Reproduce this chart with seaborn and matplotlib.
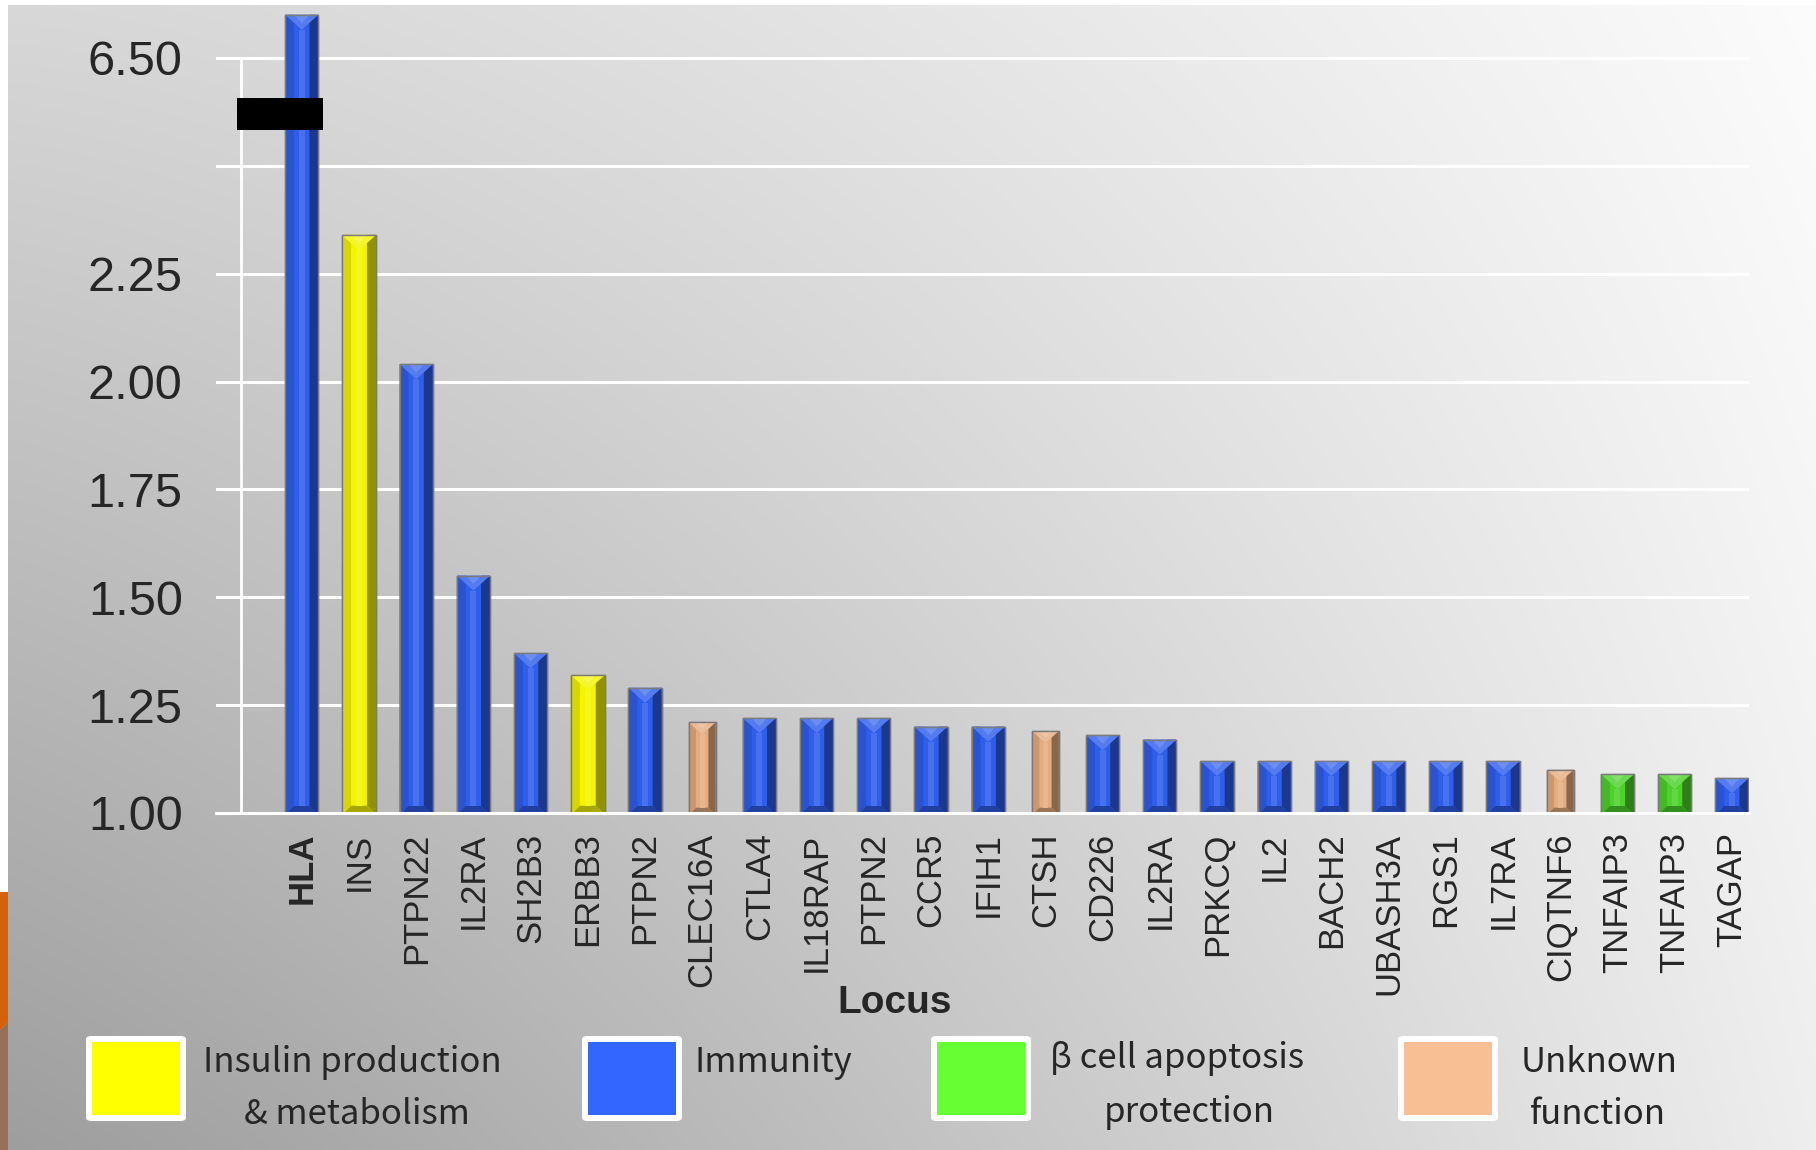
import numpy as np
import pandas as pd
import matplotlib
matplotlib.use("Agg")
import matplotlib.pyplot as plt
import matplotlib.colors as mcolors
from matplotlib.patches import Polygon, Rectangle, FancyBboxPatch
import seaborn as sns

# ---------------------------------------------------------------- data
loci = ["HLA", "INS", "PTPN22", "IL2RA", "SH2B3", "ERBB3", "PTPN2", "CLEC16A",
        "CTLA4", "IL18RAP", "PTPN2", "CCR5", "IFIH1", "CTSH", "CD226", "IL2RA",
        "PRKCQ", "IL2", "BACH2", "UBASH3A", "RGS1", "IL7RA", "CIQTNF6",
        "TNFAIP3", "TNFAIP3", "TAGAP"]
odds_ratio = [6.90, 2.34, 2.04, 1.55, 1.37, 1.32, 1.29, 1.21,
              1.22, 1.22, 1.22, 1.20, 1.20, 1.19, 1.18, 1.17,
              1.12, 1.12, 1.12, 1.12, 1.12, 1.12, 1.10,
              1.09, 1.09, 1.08]
function = ["immunity", "insulin", "immunity", "immunity", "immunity", "insulin",
            "immunity", "unknown", "immunity", "immunity", "immunity", "immunity",
            "immunity", "unknown", "immunity", "immunity", "immunity", "immunity",
            "immunity", "immunity", "immunity", "immunity", "unknown",
            "beta", "beta", "immunity"]

groups = ["insulin", "immunity", "beta", "unknown"]
group_labels = [["Insulin production", "& metabolism"],
                ["Immunity"],
                ["\u03b2 cell apoptosis", "protection"],
                ["Unknown", "function"]]

ytick_values = [1.00, 1.25, 1.50, 1.75, 2.00, 2.25, 2.50, 6.50]
ytick_text = ["1.00", "1.25", "1.50", "1.75", "2.00", "2.25", "", "6.50"]

# ---------------------------------------------------------------- style
legend_colors = {"insulin": "#FFFF00", "immunity": "#3366FF",
                 "beta": "#66FF33", "unknown": "#F8BF94"}
bar_colors = {"insulin": "#F4F400", "immunity": "#2F5EEB",
              "beta": "#4CD22A", "unknown": "#E5AC80"}
bar_width = {"insulin": 0.6, "immunity": 0.58, "beta": 0.58, "unknown": 0.47}

W, H = 1816, 1150
fig = plt.figure(figsize=(W / 100, H / 100), dpi=100)

# background: diagonal grey-to-white wash
bg = fig.add_axes([0, 0, 1, 1], zorder=-10)
gx, gy = np.meshgrid(np.linspace(0, 1, 400), np.linspace(0, 1, 260))
shade = 216 + 36 * gx ** 1.4 - 58 * gy + 44 * gx * gy
shade = np.clip(shade, 0, 255) / 255.0
bg.imshow(np.dstack([shade, shade, shade]), extent=[0, 1, 1, 0],
          aspect="auto", interpolation="bilinear")
bg.set_xlim(0, 1)
bg.set_ylim(1, 0)
bg.axis("off")
# slide frame fragments
bg.add_patch(Rectangle((0, 0), 1, 5 / H, color="white", lw=0))
bg.add_patch(Rectangle((0, 0), 8 / W, 892 / H, color="white", lw=0))
bg.add_patch(Polygon([(0, 892 / H), (8 / W, 892 / H), (8 / W, 1022 / H), (0, 1030 / H)],
                     closed=True, color="#D4620A", lw=0))
bg.add_patch(Polygon([(0, 1030 / H), (8 / W, 1022 / H), (8 / W, 1), (0, 1)],
                     closed=True, color="#967059", lw=0))

sns.set_style("white")
plt.rcParams["font.family"] = ["Liberation Sans", "DejaVu Sans"]

ax = fig.add_axes([216 / W, (H - 813) / H, 1533 / W, 809 / H])
ax.set_facecolor("none")


# broken value axis: 1.0-2.5 linear, 2.5-6.5 squeezed into one step
def fwd(v):
    v = np.asarray(v, dtype=float)
    return np.where(v <= 2.5, (v - 1.0) * 4.0,
                    np.where(v <= 6.5, 6.0 + (v - 2.5) / 4.0, 7.0 + (v - 6.5)))


def inv(u):
    u = np.asarray(u, dtype=float)
    return np.where(u <= 6.0, 1.0 + u / 4.0,
                    np.where(u <= 7.0, 2.5 + (u - 6.0) * 4.0, 6.5 + (u - 7.0)))


df = pd.DataFrame({"pos": np.arange(len(loci)), "odds": odds_ratio, "group": function})
sns.barplot(data=df, x="pos", y="odds", hue="group", hue_order=groups,
            palette=bar_colors, dodge=False, width=0.58, saturation=1,
            legend=False, ax=ax)

ax.set_yscale("function", functions=(fwd, inv))
ax.set_ylim(1.0, float(inv(7.5)))
ax.set_xlim(-1.5, 25.3)

for s in ["top", "right", "left"]:
    ax.spines[s].set_visible(False)
ax.spines["bottom"].set_color("white")
ax.spines["bottom"].set_linewidth(2.2)

ax.set_yticks(ytick_values)
ax.set_yticklabels(ytick_text, fontsize=35)
ax.yaxis.set_minor_locator(matplotlib.ticker.NullLocator())
ax.tick_params(axis="y", length=0, pad=24)
ax.grid(axis="y", color="white", lw=2.2)
ax.grid(axis="x", visible=False)
ax.set_axisbelow(True)

ax.set_xticks(np.arange(len(loci)))
ax.set_xticklabels(loci, rotation=90, fontsize=25)
ax.get_xticklabels()[0].set_fontweight("bold")
ax.set_xticks(np.arange(-1.5, len(loci) - 1, 1.0), minor=True)
ax.tick_params(axis="x", which="major", length=0, pad=14)
ax.tick_params(axis="x", which="minor", length=11.5, width=1.5,
               color="white", direction="out")
ax.set_xlabel("")
ax.set_ylabel("")

# vertical value-axis line
ax.plot([-1.07, -1.07], [1.0, 6.5], color="white", lw=2, zorder=0.6,
        solid_capstyle="butt")


def mix(c, other, t):
    c = np.array(mcolors.to_rgb(c))
    o = np.array(mcolors.to_rgb(other))
    return tuple(c * (1 - t) + o * t)


# bevelled bar faces
to_axes = ax.transAxes.inverted()
bars = [p for p in ax.patches if isinstance(p, Rectangle) and p.get_height() > 0]
for p in bars:
    cx = p.get_x() + p.get_width() / 2
    idx = int(round(cx))
    grp = function[idx]
    w = bar_width[grp]
    p.set_x(cx - w / 2)
    p.set_width(w)
    base = bar_colors[grp]
    p.set_facecolor(base)
    p.set_edgecolor("#7a7a7a")
    p.set_linewidth(1.0)
    p.set_zorder(2)

    top = p.get_y() + p.get_height()
    L, B = ax.transData.transform((cx - w / 2, 1.0))
    R, T = ax.transData.transform((cx + w / 2, top))
    B -= 2
    pw = R - L
    h = T - B
    d = min(0.27 * pw, 0.3 * h)
    d2 = min(0.45 * pw, 0.5 * h)
    mid = (L + R) / 2
    shapes = [
        ([(L, B), (L + d, B + d), (L + d, T), (L, T)], mix(base, "black", 0.12)),
        ([(R, B), (R - d, B + d), (R - d, T), (R, T)], mix(base, "black", 0.40)),
        ([(L, B), (R, B), (R - d, B + d), (L + d, B + d)], mix(base, "black", 0.32)),
        ([(mid - 0.09 * pw, B + d), (mid + 0.09 * pw, B + d),
          (mid + 0.09 * pw, T - d2), (mid - 0.09 * pw, T - d2)], mix(base, "white", 0.12)),
        ([(L, T), (R, T), (mid, T - d2)], mix(base, "white", 0.18)),
        ([(L + d, T), (R - d, T), (mid, T - d2 * 0.55)], mix(base, "white", 0.30)),
    ]
    for pts, col in shapes:
        ax.add_patch(Polygon(to_axes.transform(pts), closed=True, transform=ax.transAxes,
                             facecolor=col, edgecolor="none", zorder=2.1))
    ax.add_patch(Polygon(to_axes.transform([(L, B), (R, B), (R, T), (L, T)]), closed=True,
                         transform=ax.transAxes, facecolor="none",
                         edgecolor="#7a7a7a", lw=1.0, zorder=2.2))

# axis break marker
ax.add_patch(Rectangle(((237 - 216) / 1533, (813 - 130) / 809), 86 / 1533, 32 / 809,
                       transform=ax.transAxes, facecolor="black", edgecolor="none",
                       zorder=5, clip_on=False))

fig.text(895 / W, 1 - 1003 / H, "Locus", ha="center", va="center",
         fontsize=28, fontweight="bold")

# category key
legend_font = ["Noto Sans CJK JP", "DejaVu Sans"]
swatch_left = [86, 582, 931, 1398]
text_spec = [
    [(203, 1062, "left"), (357, 1114, "center")],
    [(694, 1062, "left")],
    [(1050, 1058, "left"), (1189, 1112, "center")],
    [(1599, 1062, "center"), (1598, 1114, "center")],
]
for g, labels, sx, spec in zip(groups, group_labels, swatch_left, text_spec):
    fig.patches.append(FancyBboxPatch(
        (sx / W, 1 - 1121 / H), 100 / W, 85 / H,
        boxstyle="round,pad=0,rounding_size=0.003",
        transform=fig.transFigure, facecolor="white", edgecolor="none", zorder=3))
    fig.patches.append(Rectangle(
        ((sx + 6) / W, 1 - 1115 / H), 88 / W, 73 / H,
        transform=fig.transFigure, facecolor=legend_colors[g], edgecolor="none", zorder=4))
    for text, (tx, ty, ha) in zip(labels, spec):
        fig.text(tx / W, 1 - ty / H, text, ha=ha, va="center", fontsize=25,
                 family=legend_font)

fig.savefig("out.png", dpi=100)
